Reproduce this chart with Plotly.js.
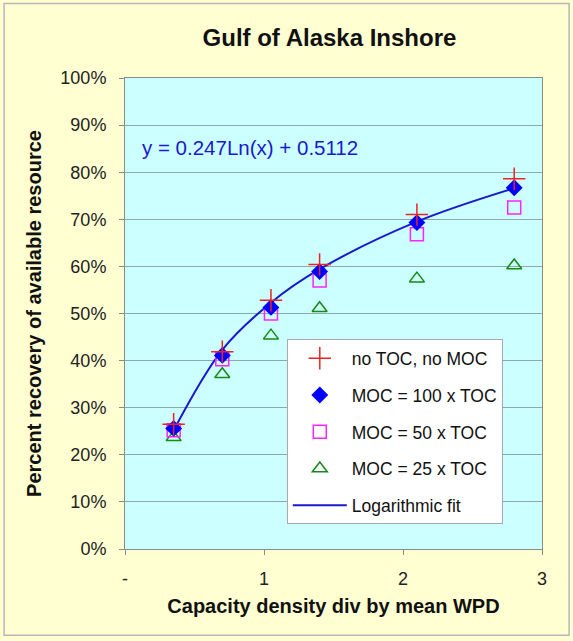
<!DOCTYPE html>
<html>
<head>
<meta charset="utf-8">
<script src="https://cdn.plot.ly/plotly-3.0.1.min.js"></script>
<style>html,body{margin:0;padding:0;background:#fff;}#chart{width:573px;height:641px;}</style>
</head>
<body>
<div id="chart"></div>
<script>
const xValues = [0.35, 0.7, 1.05, 1.4, 2.1, 2.8];
const noTocNoMoc = [0.265, 0.419, 0.528, 0.604, 0.710, 0.786];
const moc100 = [0.256, 0.411, 0.513, 0.589, 0.693, 0.767];
const moc50 = [0.252, 0.403, 0.500, 0.570, 0.668, 0.725];
const moc25 = [0.237, 0.371, 0.453, 0.511, 0.574, 0.602];
const logFit = [0.252, 0.423, 0.523, 0.594, 0.695, 0.766];
const seriesNames = ["no TOC, no MOC", "MOC = 100 x TOC", "MOC = 50 x TOC", "MOC = 25 x TOC", "Logarithmic fit"];
const xTickVals = [0, 1, 2, 3];
const xTickText = ["-", "1", "2", "3"];
const yTickVals = [0, 0.1, 0.2, 0.3, 0.4, 0.5, 0.6, 0.7, 0.8, 0.9, 1.0];
const titleText = "Gulf of Alaska Inshore";
const xTitle = "Capacity density div by mean WPD";
const yTitle = "Percent recovery of available resource";
const equationText = "y = 0.247Ln(x) + 0.5112";

const FONT = "Liberation Sans, Arial, sans-serif";

const traces = [
  {x: xValues, y: logFit, name: seriesNames[4], mode: "lines", line: {color: "#1a1acc", width: 2, shape: "spline"}, legendgroup: "e", legendrank: 5},
  {x: xValues, y: moc25, name: seriesNames[3], mode: "markers", marker: {symbol: "triangle-up-open", size: 13, color: "#138a13", line: {width: 1.5, color: "#138a13"}}, legendgroup: "d", legendrank: 4},
  {x: xValues, y: moc50, name: seriesNames[2], mode: "markers", marker: {symbol: "square-open", size: 13, color: "#ff22ff", line: {width: 1.5, color: "#ff22ff"}}, legendgroup: "c", legendrank: 3},
  {x: xValues, y: moc100, name: seriesNames[1], mode: "markers", marker: {symbol: "diamond", size: 13, color: "#0000ff"}, legendgroup: "b", legendrank: 2},
  {x: xValues, y: noTocNoMoc, name: seriesNames[0], mode: "markers", marker: {symbol: "cross-thin-open", size: 16, color: "#ee2222", line: {width: 1.5, color: "#ee2222"}}, legendgroup: "a", legendrank: 1}
];

const layout = {
  width: 573, height: 641,
  paper_bgcolor: "#ffffd2",
  plot_bgcolor: "#ccffff",
  margin: {l: 125, r: 31, t: 78, b: 92},
  font: {family: FONT, size: 18, color: "#222"},
  showlegend: true,
  title: {text: "<b>" + titleText + "</b>", x: 0.575, xanchor: "center", y: 0.942, yanchor: "middle", font: {family: FONT, size: 24, color: "#111"}},
  xaxis: {
    range: [0, 3], tickvals: xTickVals, ticktext: xTickText,
    showgrid: false, zeroline: false,
    showline: true, mirror: true, linecolor: "#8a8a8a", linewidth: 1,
    ticks: "outside", ticklen: 5, tickcolor: "#8a8a8a",
    ticklabelstandoff: 8,
    tickfont: {family: FONT, size: 18, color: "#222"},
    title: {text: "<b>" + xTitle + "</b>", font: {family: FONT, size: 20, color: "#111"}, standoff: 11}
  },
  yaxis: {
    range: [0, 1], tickvals: yTickVals, tickformat: ".0%",
    showgrid: true, gridcolor: "#8fa8a8", gridwidth: 1, zeroline: false,
    showline: true, mirror: true, linecolor: "#8a8a8a", linewidth: 1,
    ticks: "outside", ticklen: 5, tickcolor: "#8a8a8a",
    ticklabelstandoff: 9,
    tickfont: {family: FONT, size: 18, color: "#222"},
    title: {text: "<b>" + yTitle + "</b>", font: {family: FONT, size: 20, color: "#111"}, standoff: 13}
  },
  legend: {
    x: 0.388, y: 0.445, xanchor: "left", yanchor: "top",
    bgcolor: "#ffffff", bordercolor: "#aaaaaa", borderwidth: 1,
    font: {family: FONT, size: 17.5, color: "#111"},
    traceorder: "grouped", tracegroupgap: 11,
    itemwidth: 54
  },
  annotations: [
    {text: equationText, xref: "paper", yref: "paper", x: 0.035, y: 0.852, xanchor: "left", yanchor: "middle", showarrow: false, font: {family: FONT, size: 20.5, color: "#1a1acc"}}
  ],
  shapes: [
    {type: "rect", xref: "paper", yref: "paper", x0: -0.29, x1: 1.065, y0: -0.183, y1: 1.158, line: {color: "#b8b8b8", width: 1.5}, fillcolor: "rgba(0,0,0,0)", layer: "below"}
  ]
};

Plotly.newPlot("chart", traces, layout, {displayModeBar: false, staticPlot: true});
</script>
</body>
</html>
